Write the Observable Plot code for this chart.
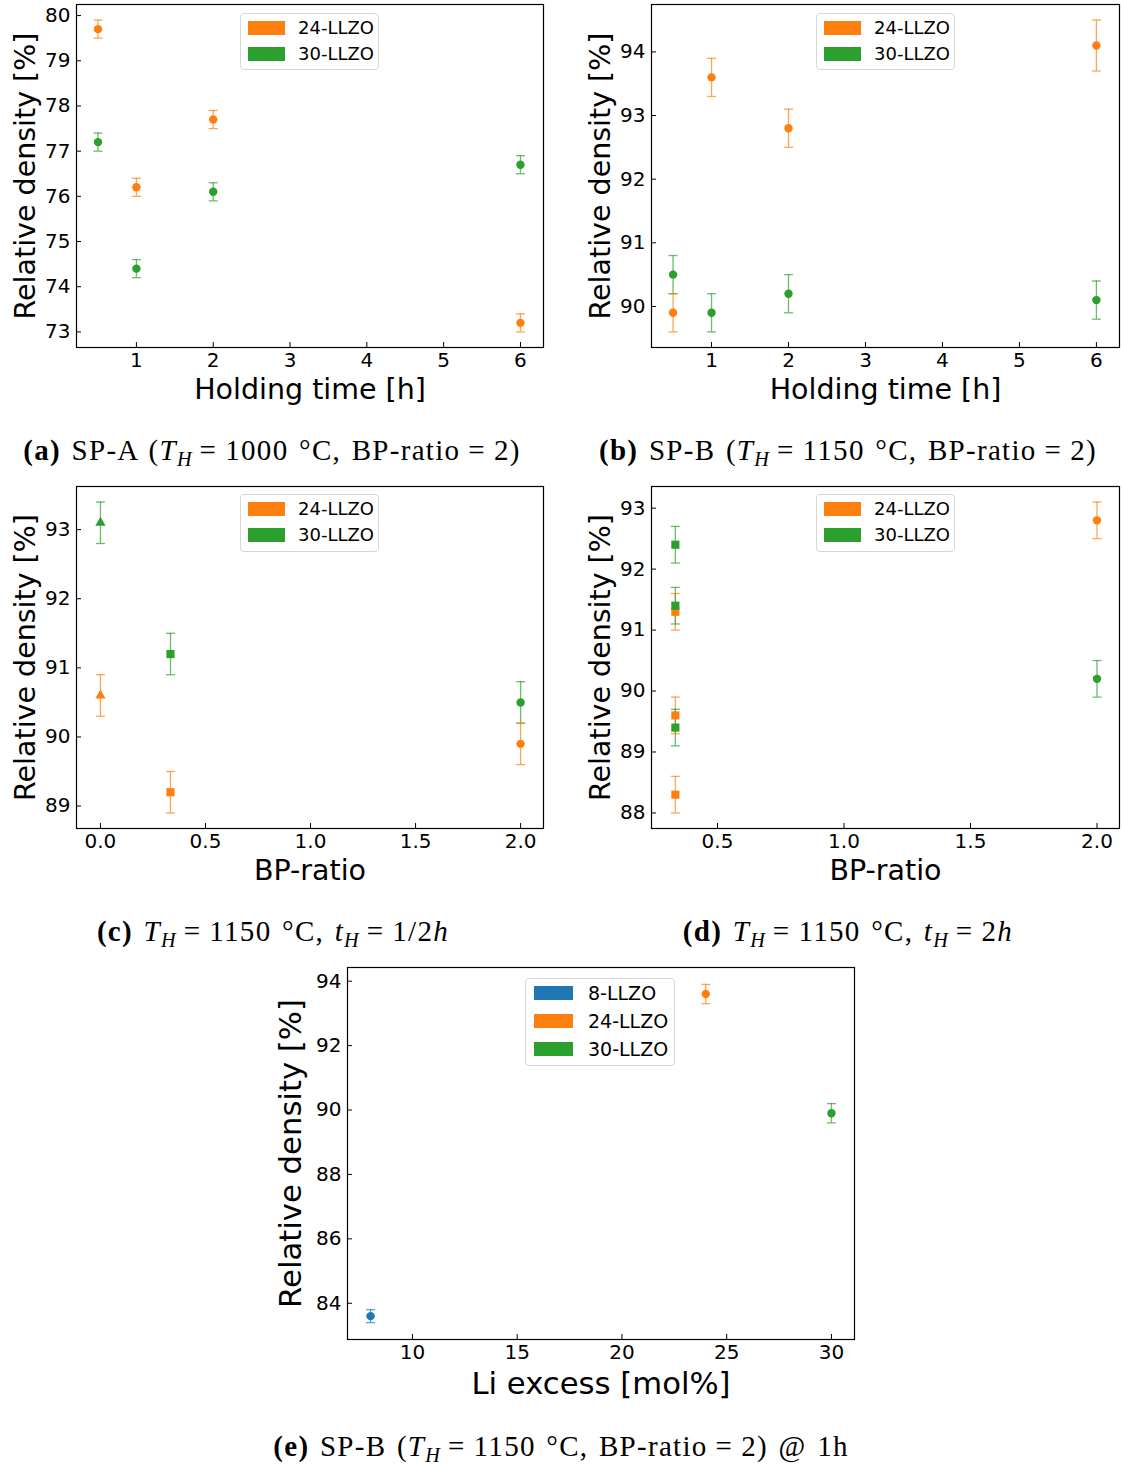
<!DOCTYPE html>
<html><head><meta charset="utf-8">
<script src="https://cdn.jsdelivr.net/npm/d3@7"></script>
<script src="https://cdn.jsdelivr.net/npm/@observablehq/plot@0.6"></script>
<style>
body{margin:0;background:#fff;}
#fig{position:relative;width:1124px;height:1468px;background:#fff;overflow:hidden;}
.panel{position:absolute;}
.legend{position:absolute;border:1px solid #d6d6d6;border-radius:4px;background:rgba(255,255,255,0.85);font-family:"DejaVu Sans",sans-serif;box-sizing:border-box;}
.legend .patch{position:absolute;}
.legend .lab{position:absolute;white-space:nowrap;line-height:1;transform:translateY(-50%);color:#000;}
.cap{position:absolute;font-family:"Liberation Serif","DejaVu Serif",serif;font-size:29px;letter-spacing:1.3px;word-spacing:2px;white-space:nowrap;transform:translateX(-50%);line-height:30px;color:#000;}
.cap sub{font-size:0.7em;vertical-align:-0.3em;line-height:0;letter-spacing:0;}
.cap .eq{margin:0 8px;}
</style>
</head><body><div id="fig"></div>
<script>
// ---------------- data ----------------
const ORANGE = "#ff7f0e", GREEN = "#2ca02c", BLUE = "#1f77b4";

// (a) SP-A, holding time
const holdTime = [0.5, 1, 2, 6];
const a24 = [79.7, 76.2, 77.7, 73.2];
const a24err = [0.2, 0.2, 0.2, 0.2];
const a30 = [77.2, 74.4, 76.1, 76.7];
const a30err = [0.2, 0.2, 0.2, 0.2];

// (b) SP-B, holding time
const b24 = [89.9, 93.6, 92.8, 94.1];
const b24err = [0.3, 0.3, 0.3, 0.4];
const b30 = [90.5, 89.9, 90.2, 90.1];
const b30err = [0.3, 0.3, 0.3, 0.3];

// (c) BP-ratio, t_H = 1/2 h
const cRatio = [0, 1/3, 2];
const cSymbols = ["triangle", "square", "circle"];
const c24 = [90.6, 89.2, 89.9];
const c24err = [0.3, 0.3, 0.3];
const c30 = [93.1, 91.2, 90.5];
const c30err = [0.3, 0.3, 0.3];

// (d) BP-ratio, t_H = 2 h
const dRatio = [1/3, 1/3, 1/3, 2];
const dSymbols = ["square", "square", "square", "circle"];
const d24 = [91.3, 89.6, 88.3, 92.8];
const d24err = [0.3, 0.3, 0.3, 0.3];
const d30 = [92.4, 91.4, 89.4, 90.2];
const d30err = [0.3, 0.3, 0.3, 0.3];

// (e) Li excess
const liExcess = [8, 24, 30];
const eDensity = [83.6, 93.6, 89.9];
const eErr = [0.2, 0.3, 0.3];
const eColors = [BLUE, ORANGE, GREEN];

// ticks
const ticksHold = [1, 2, 3, 4, 5, 6];
const ticksA = [73, 74, 75, 76, 77, 78, 79, 80];
const ticksB = [90, 91, 92, 93, 94];
const ticksRatioC = [0, 0.5, 1, 1.5, 2];
const ticksC = [89, 90, 91, 92, 93];
const ticksRatioD = [0.5, 1, 1.5, 2];
const ticksD = [88, 89, 90, 91, 92, 93];
const ticksLi = [10, 15, 20, 25, 30];
const ticksE = [84, 86, 88, 90, 92, 94];

// ---------------- helpers ----------------
function rows(xs, ys, errs, color, syms) {
  return ys.map((y, i) => ({x: xs[i], y, e: errs[i], c: Array.isArray(color) ? color[i] : color, s: syms ? syms[i] : "circle"}));
}
const capSymbol = {draw(ctx, size) { const w = Math.sqrt(size / Math.PI); ctx.moveTo(-w, 0); ctx.lineTo(w, 0); }};
const symR = {circle: 4.2, square: 4.6, triangle: 3.8};
const fmtInt = d3.format("d");

function panel(o) {
  const data = o.data;
  const marks = [
    Plot.ruleX(data, {x: "x", y1: d => d.y - d.e, y2: d => d.y + d.e, stroke: "c", strokeOpacity: 0.7, strokeWidth: 1.3}),
    Plot.dot(data, {x: "x", y: d => d.y - d.e, symbol: capSymbol, r: 4.5, stroke: "c", strokeOpacity: 0.7, strokeWidth: 1.3, fill: "none"}),
    Plot.dot(data, {x: "x", y: d => d.y + d.e, symbol: capSymbol, r: 4.5, stroke: "c", strokeOpacity: 0.7, strokeWidth: 1.3, fill: "none"})
  ];
  for (const s of ["circle", "square", "triangle"]) {
    const sub = data.filter(d => d.s === s);
    if (sub.length) marks.push(Plot.dot(sub, {x: "x", y: "y", symbol: s, r: symR[s], fill: "c", stroke: null}));
  }
  marks.push(
    Plot.frame({stroke: "black", strokeWidth: 1.2}),
    Plot.axisX(o.xTicks, {tickSize: -5, tickPadding: 10, tickFormat: o.xFmt || fmtInt, label: null, strokeWidth: 1}),
    Plot.axisY(o.yTicks, {tickSize: -5, tickPadding: 11, tickFormat: fmtInt, label: null, strokeWidth: 1}),
    Plot.text([o.xLabel], {frameAnchor: "bottom", dy: o.xLabelDy, lineAnchor: "middle", fontSize: o.labelSize}),
    Plot.text([o.yLabel], {frameAnchor: "left", dx: o.yLabelDx, rotate: -90, lineAnchor: "middle", textAnchor: "middle", fontSize: o.labelSize})
  );
  const svg = Plot.plot({
    width: o.width, height: o.height,
    marginLeft: o.m[3], marginRight: o.m[1], marginTop: o.m[0], marginBottom: o.m[2],
    x: {domain: o.xDomain}, y: {domain: o.yDomain},
    color: {type: "identity"},
    style: {fontFamily: "DejaVu Sans, sans-serif", fontSize: "20px", color: "black", background: "transparent", overflow: "visible"},
    marks
  });
  svg.classList.add("panel");
  svg.style.left = o.left + "px";
  svg.style.top = o.top + "px";
  document.getElementById("fig").appendChild(svg);
}

function legend(left, top, w, h, items, o) {
  const div = document.createElement("div");
  div.className = "legend";
  Object.assign(div.style, {left: left + "px", top: top + "px", width: w + "px", height: h + "px", fontSize: o.fs + "px"});
  items.forEach((it, i) => {
    const cy = o.y0 + i * o.dy;
    const p = document.createElement("div");
    p.className = "patch";
    Object.assign(p.style, {left: o.px + "px", top: (cy - 7) + "px", width: o.pw + "px", height: "14px", background: it.color});
    const t = document.createElement("div");
    t.className = "lab";
    Object.assign(t.style, {left: o.tx + "px", top: cy + "px"});
    t.textContent = it.label;
    div.appendChild(p); div.appendChild(t);
  });
  document.getElementById("fig").appendChild(div);
}

function caption(cx, cy, html) {
  const d = document.createElement("div");
  d.className = "cap";
  d.style.left = cx + "px";
  d.style.top = (cy - 15) + "px";
  d.innerHTML = html;
  document.getElementById("fig").appendChild(d);
}

const fmt1 = d3.format(".1f");
const ylab = "Relative density [%]";

// (a)
panel({left: 0, top: 0, width: 562, height: 410, m: [4, 19, 63, 76],
  xDomain: [0.22, 6.30], yDomain: [72.655, 80.245], xTicks: ticksHold, yTicks: ticksA,
  data: [...rows(holdTime, a24, a24err, ORANGE), ...rows(holdTime, a30, a30err, GREEN)],
  xLabel: "Holding time [h]", yLabel: ylab, xLabelDy: 42, yLabelDx: -51, labelSize: 28.5});
// (b)
panel({left: 562, top: 0, width: 562, height: 410, m: [4, 5, 63, 89],
  xDomain: [0.22, 6.30], yDomain: [89.355, 94.745], xTicks: ticksHold, yTicks: ticksB,
  data: [...rows(holdTime, b24, b24err, ORANGE), ...rows(holdTime, b30, b30err, GREEN)],
  xLabel: "Holding time [h]", yLabel: ylab, xLabelDy: 42, yLabelDx: -51, labelSize: 28.5});
// (c)
panel({left: 0, top: 480, width: 562, height: 410, m: [6, 19, 62, 76],
  xDomain: [-0.114, 2.109], yDomain: [88.675, 93.625], xTicks: ticksRatioC, yTicks: ticksC, xFmt: fmt1,
  data: [...rows(cRatio, c24, c24err, ORANGE, cSymbols), ...rows(cRatio, c30, c30err, GREEN, cSymbols)],
  xLabel: "BP-ratio", yLabel: ylab, xLabelDy: 42, yLabelDx: -51, labelSize: 28.5});
// (d)
panel({left: 562, top: 480, width: 562, height: 410, m: [6, 5, 62, 89],
  xDomain: [0.239, 2.089], yDomain: [87.745, 93.355], xTicks: ticksRatioD, yTicks: ticksD, xFmt: fmt1,
  data: [...rows(dRatio, d24, d24err, ORANGE, dSymbols), ...rows(dRatio, d30, d30err, GREEN, dSymbols)],
  xLabel: "BP-ratio", yLabel: ylab, xLabelDy: 42, yLabelDx: -51, labelSize: 28.5});
// (e)
panel({left: 240, top: 960, width: 640, height: 460, m: [7, 26, 81, 107],
  xDomain: [6.9, 31.1], yDomain: [82.875, 94.425], xTicks: ticksLi, yTicks: ticksE,
  data: rows(liExcess, eDensity, eErr, eColors),
  xLabel: "Li excess [mol%]", yLabel: ylab, xLabelDy: 45, yLabelDx: -56, labelSize: 30.7});

// legends
const leg2 = [{label: "24-LLZO", color: ORANGE}, {label: "30-LLZO", color: GREEN}];
const lo = {fs: 18, y0: 14, dy: 26, px: 7, pw: 37, tx: 57};
legend(240, 13, 139, 57, leg2, lo);
legend(816, 13, 139, 57, leg2, lo);
legend(240, 494, 139, 58, leg2, lo);
legend(816, 494, 139, 58, leg2, lo);
legend(525, 978, 150, 88, [{label: "8-LLZO", color: BLUE}, ...leg2], {fs: 19, y0: 14, dy: 28, px: 8, pw: 39, tx: 62});

// captions
const TH = '<i>T</i><sub><i>H</i></sub>', tH = '<i>t</i><sub><i>H</i></sub>';
const EQ = '<span class="eq">=</span>';
caption(272, 450, `<b>(a)</b> SP-A (${TH}${EQ}1000 °C, BP-ratio${EQ}2)`);
caption(848, 450, `<b>(b)</b> SP-B (${TH}${EQ}1150 °C, BP-ratio${EQ}2)`);
caption(273, 931, `<b>(c)</b> ${TH}${EQ}1150 °C, ${tH}${EQ}1/2<i>h</i>`);
caption(848, 931, `<b>(d)</b> ${TH}${EQ}1150 °C, ${tH}${EQ}2<i>h</i>`);
caption(561, 1446, `<b>(e)</b> SP-B (${TH}${EQ}1150 °C, BP-ratio${EQ}2) @ 1h`);
</script>
</body></html>
